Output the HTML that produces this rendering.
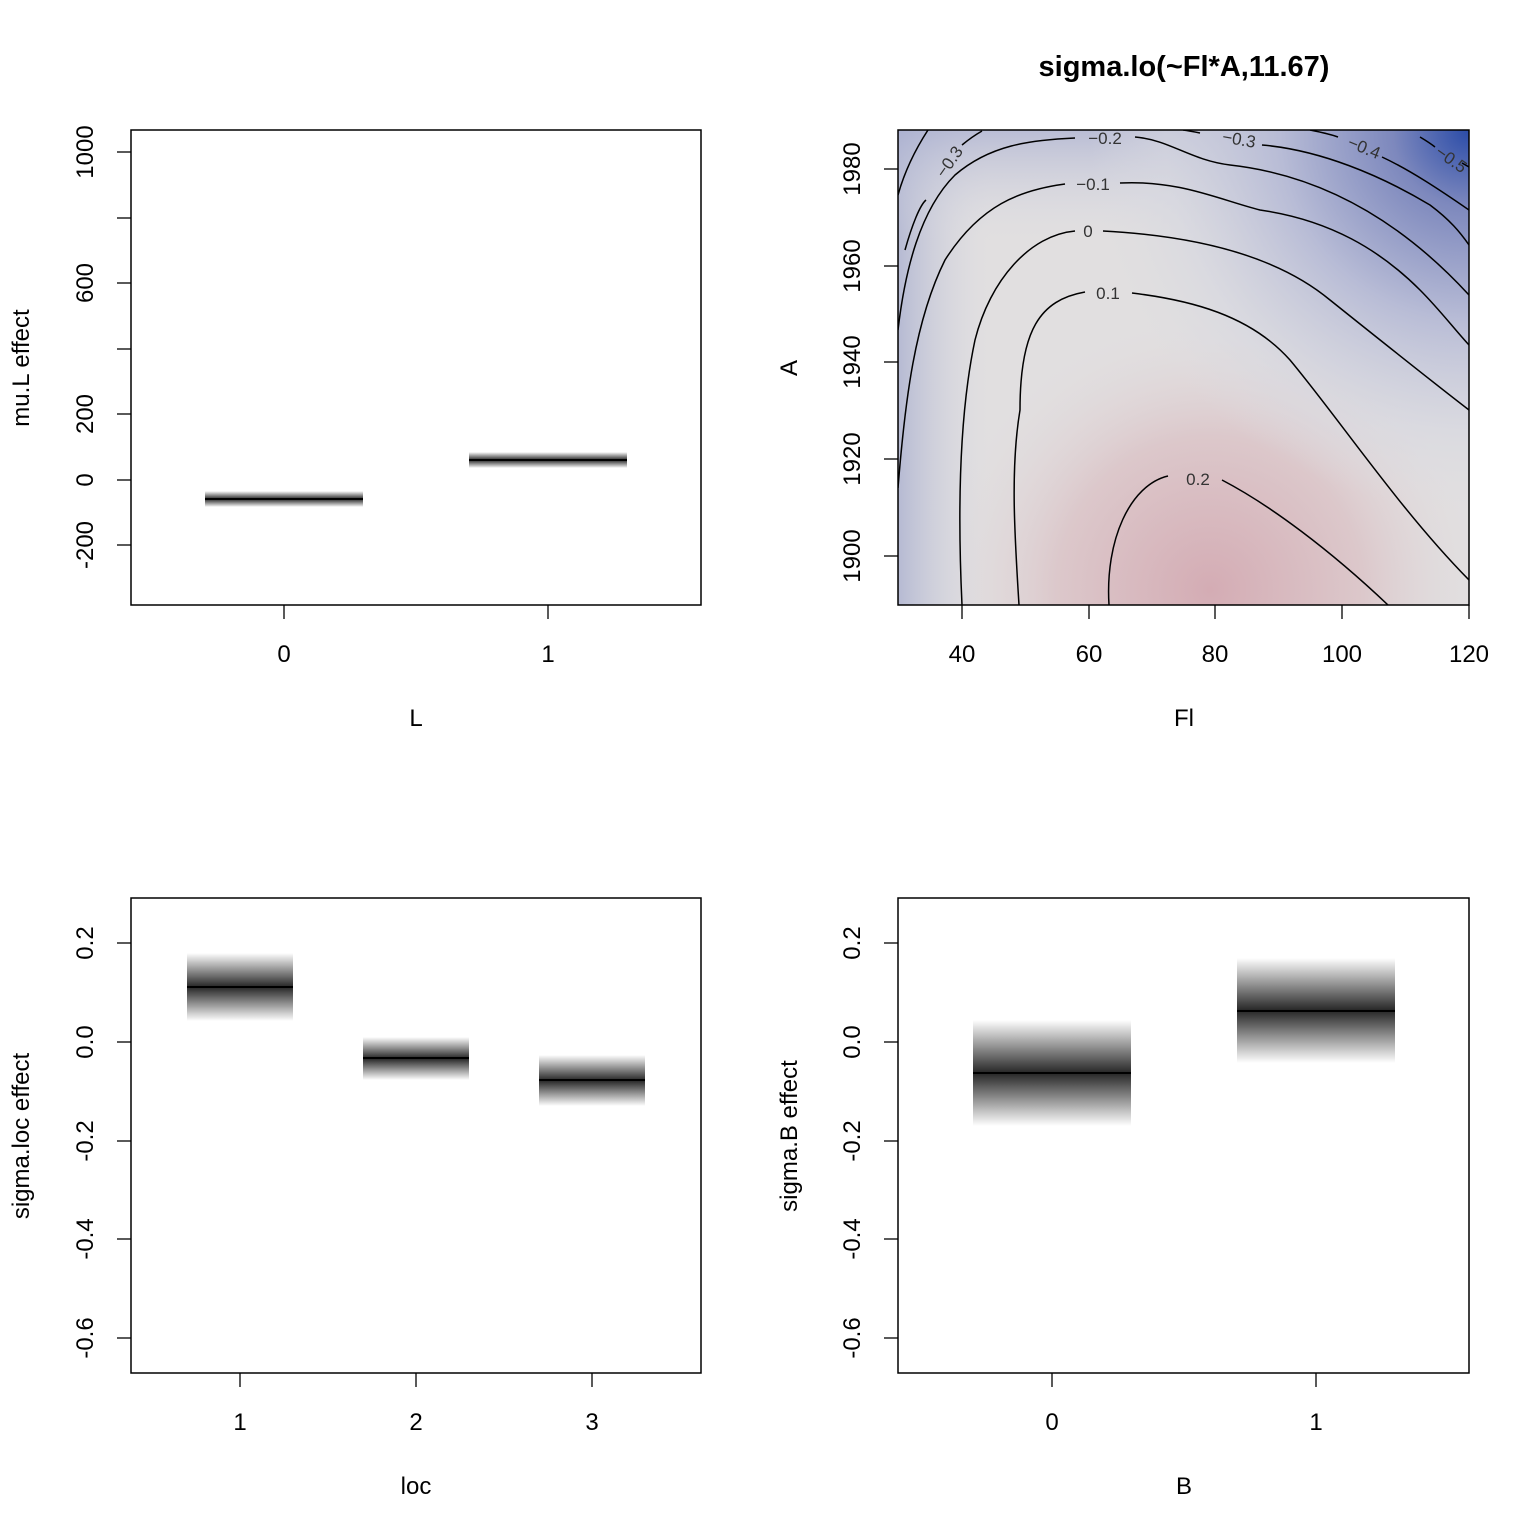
<!DOCTYPE html>
<html><head><meta charset="utf-8"><style>body{margin:0;background:#fff}svg{display:block}text{font-family:"Liberation Sans",sans-serif;fill:#000}</style></head><body>
<svg width="1536" height="1536" viewBox="0 0 1536 1536" xmlns="http://www.w3.org/2000/svg">
<defs>
<linearGradient id="bandA" x1="0" y1="0" x2="0" y2="1"><stop offset="0" stop-color="#000" stop-opacity="0"/><stop offset="0.5" stop-color="#000" stop-opacity="0.85"/><stop offset="1" stop-color="#000" stop-opacity="0"/></linearGradient>
<radialGradient id="pink" cx="1210" cy="590" r="280" gradientUnits="userSpaceOnUse"><stop offset="0" stop-color="#d4acb4"/><stop offset="0.55" stop-color="#dcc8cb"/><stop offset="1" stop-color="#e2dfe0" stop-opacity="0"/></radialGradient>
<radialGradient id="blueTR" cx="1469" cy="130" r="380" gradientUnits="userSpaceOnUse"><stop offset="0" stop-color="#2b4ca8"/><stop offset="0.2" stop-color="#7d88bd"/><stop offset="0.5" stop-color="#b8bcd6"/><stop offset="0.8" stop-color="#d6d7e0" stop-opacity="0.6"/><stop offset="1" stop-color="#dcdce2" stop-opacity="0"/></radialGradient>
<linearGradient id="blueL" x1="898" y1="0" x2="990" y2="0" gradientUnits="userSpaceOnUse"><stop offset="0" stop-color="#a3aacd" stop-opacity="0.7"/><stop offset="1" stop-color="#d8d9e2" stop-opacity="0"/></linearGradient>
<linearGradient id="blueT" x1="0" y1="130" x2="0" y2="240" gradientUnits="userSpaceOnUse"><stop offset="0" stop-color="#a8aed0" stop-opacity="0.7"/><stop offset="1" stop-color="#d8d9e2" stop-opacity="0"/></linearGradient>
<clipPath id="c2"><rect x="898" y="130" width="571" height="475"/></clipPath>
</defs>
<g stroke="#000" fill="none" stroke-width="1.5">
<rect x="131" y="130" width="570" height="475"/>
<rect x="131" y="898" width="570" height="475"/>
<rect x="898" y="898" width="571" height="475"/>
</g>
<rect x="205" y="491" width="158" height="16" fill="url(#bandA)"/>
<line x1="205" y1="499" x2="363" y2="499" stroke="#000" stroke-width="2"/>
<rect x="469" y="452" width="158" height="16" fill="url(#bandA)"/>
<line x1="469" y1="460" x2="627" y2="460" stroke="#000" stroke-width="2"/>
<g stroke="#000" stroke-width="1.3">
<line x1="131" y1="152" x2="117" y2="152"/><line x1="131" y1="218" x2="117" y2="218"/><line x1="131" y1="283" x2="117" y2="283"/><line x1="131" y1="349" x2="117" y2="349"/><line x1="131" y1="414" x2="117" y2="414"/><line x1="131" y1="480" x2="117" y2="480"/><line x1="131" y1="545" x2="117" y2="545"/>
<line x1="284" y1="605" x2="284" y2="619"/><line x1="548" y1="605" x2="548" y2="619"/>
</g>
<g font-size="24" text-anchor="middle">
<text transform="translate(93,152) rotate(-90)">1000</text>
<text transform="translate(93,283) rotate(-90)">600</text>
<text transform="translate(93,414) rotate(-90)">200</text>
<text transform="translate(93,480) rotate(-90)">0</text>
<text transform="translate(93,545) rotate(-90)">-200</text>
<text x="284" y="662">0</text><text x="548" y="662">1</text>
<text x="416" y="726">L</text>
<text transform="translate(29,368) rotate(-90)">mu.L effect</text>
</g>
<g clip-path="url(#c2)">
<rect x="898" y="130" width="571" height="475" fill="#e1dfe0"/>
<rect x="898" y="130" width="571" height="475" fill="url(#pink)"/>
<rect x="898" y="130" width="571" height="475" fill="url(#blueL)"/>
<rect x="898" y="130" width="571" height="475" fill="url(#blueT)"/>
<rect x="898" y="130" width="571" height="475" fill="url(#blueTR)"/>
<g stroke="#000" stroke-width="1.5" fill="none">
<path d="M1109,605 C1105,540 1130,485 1168,476 M1222,480 C1270,505 1330,550 1388,605"/>
<path d="M1019,605 C1015,540 1010,470 1020,410 C1020,330 1040,300 1085,292 M1132,293 C1190,300 1250,315 1290,360 C1340,420 1400,510 1469,580"/>
<path d="M962,605 C958,520 958,420 975,340 C990,280 1030,235 1075,231 M1103,231 C1180,235 1270,250 1330,300 C1380,340 1430,380 1469,410"/>
<path d="M898,488 C905,400 915,320 945,260 C980,205 1020,190 1065,184 M1120,183 C1180,180 1220,200 1260,210 C1330,220 1380,250 1420,290 C1440,310 1455,330 1469,345"/>
<path d="M898,330 C905,270 920,210 955,175 C990,145 1030,140 1075,138 M1135,137 C1170,140 1190,160 1230,165 C1320,175 1400,220 1469,295"/>
<path d="M898,195 C905,170 915,150 928,130 M926,200 C920,205 912,225 905,250 M962,145 C968,140 975,135 982,131"/>
<path d="M1183,130 C1190,131 1195,132 1200,133 M1262,145 C1320,150 1380,175 1430,205 C1450,220 1460,232 1469,245"/>
<path d="M1310,130 C1320,132 1330,134 1338,137 M1382,157 C1410,170 1440,190 1469,210"/>
<path d="M1420,137 C1425,140 1430,143 1435,147 M1462,163 L1469,167"/>
</g>
<g font-size="17" text-anchor="middle" style="fill:#333">
<text x="1105" y="144" style="fill:#333">−0.2</text>
<text x="1093" y="190" style="fill:#333">−0.1</text>
<text x="1088" y="237" style="fill:#333">0</text>
<text x="1108" y="299" style="fill:#333">0.1</text>
<text x="1198" y="485" style="fill:#333">0.2</text>
<text transform="translate(954,165) rotate(-55)" style="fill:#333">−0.3</text>
<text transform="translate(1238,145) rotate(10)" style="fill:#333">−0.3</text>
<text transform="translate(1362,153) rotate(22)" style="fill:#333">−0.4</text>
<text transform="translate(1448,164) rotate(35)" style="fill:#333">−0.5</text>
</g>
</g>
<rect x="898" y="130" width="571" height="475" fill="none" stroke="#000" stroke-width="1.5"/>
<g stroke="#000" stroke-width="1.3">
<line x1="962" y1="605" x2="962" y2="619"/><line x1="1089" y1="605" x2="1089" y2="619"/><line x1="1215" y1="605" x2="1215" y2="619"/><line x1="1342" y1="605" x2="1342" y2="619"/><line x1="1469" y1="605" x2="1469" y2="619"/>
<line x1="898" y1="556" x2="884" y2="556"/><line x1="898" y1="459" x2="884" y2="459"/><line x1="898" y1="362" x2="884" y2="362"/><line x1="898" y1="266" x2="884" y2="266"/><line x1="898" y1="169" x2="884" y2="169"/>
</g>
<g font-size="24" text-anchor="middle">
<text x="962" y="662">40</text><text x="1089" y="662">60</text><text x="1215" y="662">80</text><text x="1342" y="662">100</text><text x="1469" y="662">120</text>
<text transform="translate(860,556) rotate(-90)">1900</text>
<text transform="translate(860,459) rotate(-90)">1920</text>
<text transform="translate(860,362) rotate(-90)">1940</text>
<text transform="translate(860,266) rotate(-90)">1960</text>
<text transform="translate(860,169) rotate(-90)">1980</text>
<text x="1184" y="726">Fl</text>
<text transform="translate(797,368) rotate(-90)">A</text>
<text x="1184" y="76" font-weight="bold" font-size="29">sigma.lo(~Fl*A,11.67)</text>
</g>
<rect x="187" y="953" width="106" height="68" fill="url(#bandA)"/>
<line x1="187" y1="987" x2="293" y2="987" stroke="#000" stroke-width="2"/>
<rect x="363" y="1037" width="106" height="43" fill="url(#bandA)"/>
<line x1="363" y1="1058" x2="469" y2="1058" stroke="#000" stroke-width="2"/>
<rect x="539" y="1055" width="106" height="51" fill="url(#bandA)"/>
<line x1="539" y1="1080" x2="645" y2="1080" stroke="#000" stroke-width="2"/>
<g stroke="#000" stroke-width="1.3">
<line x1="131" y1="943" x2="117" y2="943"/><line x1="131" y1="1042" x2="117" y2="1042"/><line x1="131" y1="1141" x2="117" y2="1141"/><line x1="131" y1="1239" x2="117" y2="1239"/><line x1="131" y1="1338" x2="117" y2="1338"/>
<line x1="240" y1="1373" x2="240" y2="1387"/><line x1="416" y1="1373" x2="416" y2="1387"/><line x1="592" y1="1373" x2="592" y2="1387"/>
</g>
<g font-size="24" text-anchor="middle">
<text transform="translate(93,943) rotate(-90)">0.2</text>
<text transform="translate(93,1042) rotate(-90)">0.0</text>
<text transform="translate(93,1141) rotate(-90)">-0.2</text>
<text transform="translate(93,1239) rotate(-90)">-0.4</text>
<text transform="translate(93,1338) rotate(-90)">-0.6</text>
<text x="240" y="1430">1</text><text x="416" y="1430">2</text><text x="592" y="1430">3</text>
<text x="416" y="1494">loc</text>
<text transform="translate(29,1136) rotate(-90)">sigma.loc effect</text>
</g>
<rect x="973" y="1020" width="158" height="106" fill="url(#bandA)"/>
<line x1="973" y1="1073" x2="1131" y2="1073" stroke="#000" stroke-width="2"/>
<rect x="1237" y="958" width="158" height="105" fill="url(#bandA)"/>
<line x1="1237" y1="1011" x2="1395" y2="1011" stroke="#000" stroke-width="2"/>
<g stroke="#000" stroke-width="1.3">
<line x1="898" y1="943" x2="884" y2="943"/><line x1="898" y1="1042" x2="884" y2="1042"/><line x1="898" y1="1141" x2="884" y2="1141"/><line x1="898" y1="1239" x2="884" y2="1239"/><line x1="898" y1="1338" x2="884" y2="1338"/>
<line x1="1052" y1="1373" x2="1052" y2="1387"/><line x1="1316" y1="1373" x2="1316" y2="1387"/>
</g>
<g font-size="24" text-anchor="middle">
<text transform="translate(860,943) rotate(-90)">0.2</text>
<text transform="translate(860,1042) rotate(-90)">0.0</text>
<text transform="translate(860,1141) rotate(-90)">-0.2</text>
<text transform="translate(860,1239) rotate(-90)">-0.4</text>
<text transform="translate(860,1338) rotate(-90)">-0.6</text>
<text x="1052" y="1430">0</text><text x="1316" y="1430">1</text>
<text x="1184" y="1494">B</text>
<text transform="translate(797,1136) rotate(-90)">sigma.B effect</text>
</g>
</svg>
</body></html>
